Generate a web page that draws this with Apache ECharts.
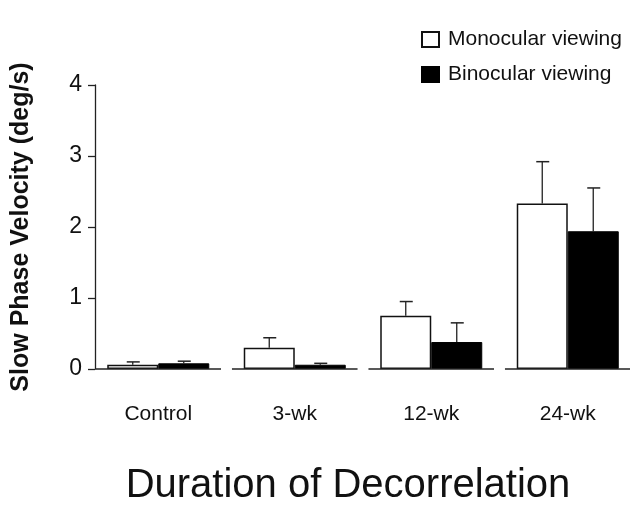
<!DOCTYPE html>
<html>
<head>
<meta charset="utf-8">
<script src="https://cdn.jsdelivr.net/npm/echarts@6/dist/echarts.min.js"></script>
<style>
  html, body { margin: 0; padding: 0; background: #fff; }
  #main { width: 630px; height: 505px; }
</style>
</head>
<body>
<div id="main"></div>
<script>
var categories = ['Control', '3-wk', '12-wk', '24-wk'];
var monocular = [0.06, 0.30, 0.75, 2.33];
var monocularSE = [0.04, 0.14, 0.20, 0.59];
var binocular = [0.08, 0.06, 0.38, 1.94];
var binocularSE = [0.03, 0.02, 0.27, 0.61];
var yTicks = [0, 1, 2, 3, 4];

var FONT = 'Arial, "Liberation Sans", Helvetica, sans-serif';
var BAR_W = 51;

var chartDom = document.getElementById('main');
var myChart = echarts.init(chartDom);

// error bar: value = [catIndex, mean, se, side]
function errorItem(params, api) {
  var i = api.value(0);
  var top = api.value(1) + api.value(2);
  var side = api.value(3);
  var base = api.coord([i, api.value(1)]);
  var up = api.coord([i, top]);
  var x = base[0] + side * BAR_W / 2;
  return {
    type: 'group',
    children: [
      { type: 'line', shape: { x1: x, y1: base[1], x2: x, y2: up[1] },
        style: { stroke: '#222', lineWidth: 1.3 } },
      { type: 'line', shape: { x1: x - 6, y1: up[1], x2: x + 7, y2: up[1] },
        style: { stroke: '#222', lineWidth: 1.5 } }
    ]
  };
}

// broken x axis: one segment per group
function axisSegment(params, api) {
  var p = api.coord([api.value(0), 0]);
  var w = api.size([1, 0])[0];
  return {
    type: 'line',
    shape: { x1: p[0] - w * 0.46, y1: p[1], x2: p[0] + w * 0.46, y2: p[1] },
    style: { stroke: '#222', lineWidth: 1.5 }
  };
}

var option = {
  backgroundColor: '#fff',
  textStyle: { fontFamily: FONT },
  animation: false,
  grid: { left: 90, width: 546, top: 85, bottom: 136, outerBoundsMode: 'none', containLabel: false },
  legend: {
    orient: 'vertical',
    left: 416,
    top: 24,
    itemGap: 14,
    itemWidth: 17,
    itemHeight: 15,
    icon: 'rect',
    data: ['Monocular viewing', 'Binocular viewing'],
    textStyle: { fontSize: 21, color: '#111', fontFamily: FONT, padding: [0, 0, 0, 4] }
  },
  xAxis: {
    type: 'category',
    data: categories,
    axisLine: { show: false },
    axisTick: { show: false },
    axisLabel: { fontSize: 21, color: '#111', margin: 35, fontFamily: FONT }
  },
  yAxis: {
    type: 'value',
    min: yTicks[0],
    max: yTicks[yTicks.length - 1],
    interval: 1,
    offset: -5,
    name: 'Slow Phase Velocity (deg/s)',
    nameLocation: 'middle',
    nameGap: 61,
    nameTextStyle: { fontSize: 25, fontWeight: 'bold', color: '#111', fontFamily: FONT },
    axisLine: { show: true, lineStyle: { color: '#222', width: 1.3 } },
    axisTick: { show: true, length: 7, lineStyle: { color: '#222', width: 1.3 } },
    axisLabel: { fontSize: 23, color: '#111', margin: 13, fontFamily: FONT },
    splitLine: { show: false }
  },
  graphic: [{
    type: 'text',
    x: 348,
    y: 486,
    style: {
      text: 'Duration of Decorrelation',
      font: '40px ' + FONT,
      fill: '#111',
      textAlign: 'center',
      textVerticalAlign: 'middle'
    }
  }],
  series: [
    {
      name: 'Monocular viewing',
      type: 'bar',
      barWidth: BAR_W,
      barGap: '0%',
      itemStyle: { color: '#fff', borderColor: '#111', borderWidth: 1.5 },
      data: monocular,
      z: 2
    },
    {
      name: 'Binocular viewing',
      type: 'bar',
      barWidth: BAR_W,
      barGap: '0%',
      itemStyle: { color: '#000', borderColor: '#000', borderWidth: 1 },
      data: binocular,
      z: 2
    },
    {
      name: 'monoErr',
      type: 'custom',
      renderItem: errorItem,
      data: monocular.map(function (v, i) { return [i, v, monocularSE[i], -1]; }),
      z: 1
    },
    {
      name: 'binoErr',
      type: 'custom',
      renderItem: errorItem,
      data: binocular.map(function (v, i) { return [i, v, binocularSE[i], 1]; }),
      z: 1
    },
    {
      name: 'axis',
      type: 'custom',
      renderItem: axisSegment,
      data: categories.map(function (c, i) { return [i, 0]; }),
      z: 3,
      silent: true
    }
  ]
};

option && myChart.setOption(option);
</script>
</body>
</html>
